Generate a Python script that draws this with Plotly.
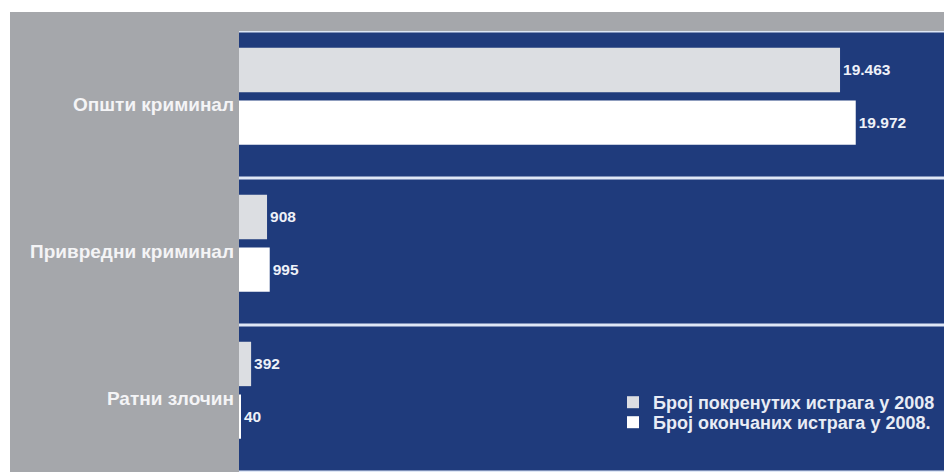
import plotly.graph_objects as go

categories = ["Општи криминал", "Привредни криминал", "Ратни злочин"]
started = [19463, 908, 392]
finished = [19972, 995, 40]
series_names = ["Број покренутих истрага у 2008", "Број окончаних истрага у 2008."]

def fmt(v):
    return f"{v:,}".replace(",", ".")

# page has an 8px body margin: figure is placed at (8, 8)
OFF = 8
W, H = 936, 464
L, R, T, B = 239 - OFF, 0, 31 - OFF, 0
pw, ph = W - L - R, H - T - B

def px_x(p):  # p: page pixel
    return (p - OFF - L) / pw

def px_y(p):
    return (H - B - (p - OFF)) / ph

FONT = "Liberation Sans, Arial, sans-serif"
BLUE = "#1f3b7c"
GRAY = "#a5a7ab"

pos = list(range(len(categories)))

fig = go.Figure()
fig.add_trace(go.Bar(
    y=pos, x=started, orientation="h", name=series_names[0],
    marker=dict(color="#dcdee2", line=dict(width=0)),
    width=0.302, offset=-0.386,
    text=[fmt(v) for v in started], textposition="outside",
    textfont=dict(family=FONT, size=15.5, color="#eef1f8", weight="bold"),
    cliponaxis=False, legend="legend",
))
fig.add_trace(go.Bar(
    y=pos, x=finished, orientation="h", name=series_names[1],
    marker=dict(color="#ffffff", line=dict(width=0)),
    width=0.3, offset=-0.027,
    text=[fmt(v) for v in finished], textposition="outside",
    textfont=dict(family=FONT, size=15.5, color="#eef1f8", weight="bold"),
    cliponaxis=False, legend="legend2",
))

shapes = [
    dict(type="rect", xref="paper", yref="paper", layer="below",
         x0=px_x(10), x1=0, y0=px_y(480), y1=px_y(12),
         fillcolor=GRAY, line=dict(width=0)),
    dict(type="rect", xref="paper", yref="paper", layer="below",
         x0=0, x1=1, y0=1, y1=px_y(12),
         fillcolor=GRAY, line=dict(width=0)),
]
for b in [-0.5, 0.5, 1.5, 2.5]:
    shapes.append(dict(type="line", xref="paper", yref="y", x0=0, x1=1, y0=b, y1=b,
                       line=dict(color="#dfe7f5", width=3), layer="above"))

legend_common = dict(xanchor="left", yanchor="top", bgcolor="rgba(0,0,0,0)", borderwidth=0,
                     font=dict(family=FONT, size=18, color="#e8ecf5", weight="bold"),
                     itemclick=False, itemdoubleclick=False)

fig.update_layout(
    width=W, height=H,
    margin=dict(l=L, r=R, t=T, b=B, pad=0, autoexpand=False),
    paper_bgcolor="#ffffff",
    plot_bgcolor=BLUE,
    barmode="overlay",
    shapes=shapes,
    showlegend=True,
    legend=dict(x=px_x(613), y=px_y(384), **legend_common),
    legend2=dict(x=px_x(613), y=px_y(404), **legend_common),
    xaxis=dict(range=[0, 22830], visible=False, showgrid=False, zeroline=False, fixedrange=True),
    yaxis=dict(range=[2.5, -0.5], tickvals=pos, ticktext=categories,
               showgrid=False, zeroline=False, showline=False, ticks="",
               ticklabelstandoff=4,
               tickfont=dict(family=FONT, size=19, color="#f4f4f6", weight="bold")),
)

fig.write_html("out.html")
